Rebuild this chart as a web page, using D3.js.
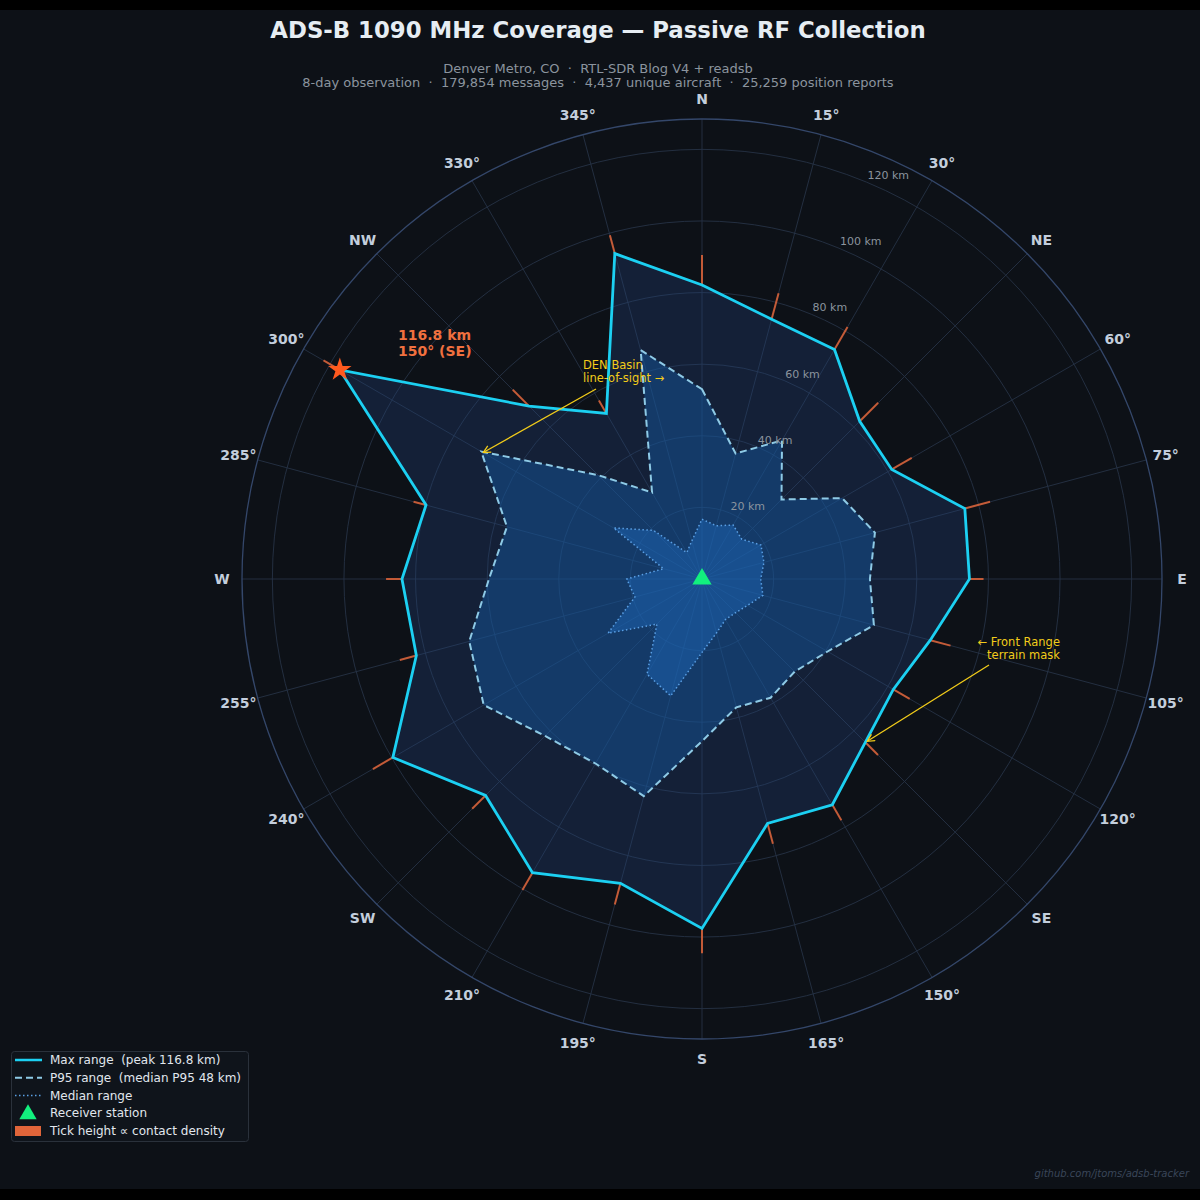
<!DOCTYPE html>
<html>
<head>
<meta charset="utf-8">
<script src="https://cdn.jsdelivr.net/npm/d3@7"></script>
<style>
  html, body { margin: 0; padding: 0; background: #0d1117; }
  svg { display: block; font-family: "DejaVu Sans", sans-serif; }
  text { white-space: pre; }
</style>
</head>
<body>
<svg id="chart" width="1200" height="1200"></svg>
<script>
// bearings of each 15 degree sector
var bearings = [0, 15, 30, 45, 60, 75, 90, 105, 120, 135, 150, 165,
                180, 195, 210, 225, 240, 255, 270, 285, 300, 315, 330, 345];
var bearingLabels = ["N", "15°", "30°", "NE", "60°", "75°", "E", "105°", "120°", "SE", "150°", "165°",
                     "S", "195°", "210°", "SW", "240°", "255°", "W", "285°", "300°", "NW", "330°", "345°"];

// range per sector, km
var maxRangeKm = [82.1, 75.1, 74.0, 62.3, 61.2, 76.0, 74.7, 66.0, 61.7, 64.5, 72.8, 70.7,
                  97.6, 88.0, 94.7, 85.5, 99.7, 82.6, 83.8, 79.8, 116.8, 68.3, 53.4, 94.1];
var p95RangeKm = [53.0, 36.3, 44.7, 31.4, 45.2, 50.0, 46.9, 49.7, 40.5, 36.6, 38.3, 37.1,
                  45.3, 62.8, 59.5, 62.0, 70.4, 67.3, 59.5, 56.4, 71.2, 41.0, 27.9, 66.2];
var medianRangeKm = [16.7, 15.4, 17.4, 15.7, 19.0, 17.9, 16.4, 17.6, 14.7, 13.3, 13.1, 15.6,
                     20.5, 33.8, 30.7, 17.8, 30.3, 19.4, 21.0, 11.1, 28.5, 19.2, 8.5, 11.0];
// relative contact density per sector (1 = busiest)
var contactDensity = [1.00, 0.90, 0.87, 0.87, 0.77, 0.87, 0.47, 0.70, 0.63, 0.60, 0.60, 0.70,
                      0.83, 0.73, 0.67, 0.63, 0.77, 0.57, 0.53, 0.43, 0.63, 0.77, 0.50, 0.63];

var ringTicks = [20, 40, 60, 80, 100, 120];

var legendItems = ["Max range  (peak 116.8 km)", "P95 range  (median P95 48 km)", "Median range",
                   "Receiver station", "Tick height \u221d contact density"];

var svg = d3.select("#chart"),
    cx = 702, cy = 579,
    outerR = 460,
    peak = d3.max(maxRangeKm),
    peakIdx = maxRangeKm.indexOf(peak);

// radial scale, limit at 110% of the peak
var r = d3.scaleLinear().domain([0, peak * 1.1]).range([0, outerR]);
var tickLen = d3.scaleLinear().domain([0, 1]).range([0, 30]);

function px(deg, rad) { return cx + rad * Math.sin(deg * Math.PI / 180); }
function py(deg, rad) { return cy - rad * Math.cos(deg * Math.PI / 180); }

// background + black bands
svg.append("rect").attr("width", 1200).attr("height", 1200).attr("fill", "#0d1117");
svg.append("rect").attr("width", 1200).attr("height", 10).attr("fill", "#000");
svg.append("rect").attr("y", 1189).attr("width", 1200).attr("height", 11).attr("fill", "#000");

var g = svg.append("g").attr("transform", "translate(" + cx + "," + cy + ")");

//grid rings
g.selectAll("circle.ring").data(ringTicks).enter().append("circle")
    .attr("r", function(d) { return r(d); })
    .attr("fill", "none").attr("stroke", "#263245").attr("stroke-width", 0.9);

//spokes
g.selectAll("line.spoke").data(bearings).enter().append("line")
    .attr("x1", 0).attr("y1", 0)
    .attr("x2", function(d) { return px(d, outerR) - cx; })
    .attr("y2", function(d) { return py(d, outerR) - cy; })
    .attr("stroke", "#263245").attr("stroke-width", 0.9);

g.append("circle").attr("r", outerR).attr("fill", "none")
    .attr("stroke", "#34476a").attr("stroke-width", 1.3);

// radial labels along 22.5 deg
svg.selectAll("text.rlab").data(ringTicks).enter().append("text")
    .attr("x", function(d) { return px(22.5, r(d)) + 1; })
    .attr("y", function(d) { return py(22.5, r(d)) - 6; })
    .attr("dominant-baseline", "middle")
    .attr("font-size", 11).attr("fill", "#8b949e")
    .text(function(d) { return d + " km"; });

// bearing labels
svg.selectAll("text.blab").data(bearings).enter().append("text")
    .attr("x", function(d) { return px(d, 480); })
    .attr("y", function(d) { return py(d, 480); })
    .attr("text-anchor", "middle").attr("dominant-baseline", "central")
    .attr("font-size", 14).attr("font-weight", "bold").attr("fill", "#c3cedc")
    .text(function(d, i) { return bearingLabels[i]; });

// polygons
var radial = d3.lineRadial()
    .angle(function(d, i) { return bearings[i] * Math.PI / 180; })
    .radius(function(d) { return r(d); })
    .curve(d3.curveLinearClosed);

g.append("path").attr("d", radial(maxRangeKm))
    .attr("fill", "rgba(35,70,130,0.3)").attr("stroke", "none");
g.append("path").attr("d", radial(p95RangeKm))
    .attr("fill", "rgba(20,92,165,0.45)").attr("stroke", "none");
g.append("path").attr("d", radial(medianRangeKm))
    .attr("fill", "rgba(32,110,195,0.42)").attr("stroke", "none");

// density ticks beyond max range
g.selectAll("line.dens").data(bearings).enter().append("line")
    .attr("x1", function(d, i) { return px(d, r(maxRangeKm[i])) - cx; })
    .attr("y1", function(d, i) { return py(d, r(maxRangeKm[i])) - cy; })
    .attr("x2", function(d, i) { return px(d, r(maxRangeKm[i]) + tickLen(contactDensity[i])) - cx; })
    .attr("y2", function(d, i) { return py(d, r(maxRangeKm[i]) + tickLen(contactDensity[i])) - cy; })
    .attr("stroke", "#e0653a").attr("stroke-opacity", 0.85).attr("stroke-width", 2);

g.append("path").attr("d", radial(medianRangeKm))
    .attr("fill", "none").attr("stroke", "#5a9fe4").attr("stroke-width", 1.5)
    .attr("stroke-dasharray", "1.5,2.5");
g.append("path").attr("d", radial(p95RangeKm))
    .attr("fill", "none").attr("stroke", "#8ecae6").attr("stroke-width", 2)
    .attr("stroke-dasharray", "7,4");
g.append("path").attr("d", radial(maxRangeKm))
    .attr("fill", "none").attr("stroke", "#1cd0f2").attr("stroke-width", 2.8)
    .attr("stroke-linejoin", "miter");

// receiver + peak marker
g.append("path").attr("d", d3.symbol(d3.symbolTriangle, 160)())
    .attr("fill", "#12f07e");
g.append("path").attr("d", d3.symbol(d3.symbolStar, 170)())
    .attr("transform", "translate(" + (px(bearings[peakIdx], r(peak)) - cx) + "," + (py(bearings[peakIdx], r(peak)) - cy) + ")")
    .attr("fill", "#ff5a1f");

// peak label
var peakTxt = svg.append("text").attr("font-size", 14).attr("font-weight", "bold").attr("fill", "#f0703f");
peakTxt.append("tspan").attr("x", 398).attr("y", 340).text(peak + " km");
peakTxt.append("tspan").attr("x", 398).attr("y", 356).text("150° (SE)");

// annotations
var defs = svg.append("defs");
defs.append("marker").attr("id", "arr").attr("viewBox", "0 0 10 10")
    .attr("refX", 9).attr("refY", 5).attr("markerWidth", 9).attr("markerHeight", 9)
    .attr("markerUnits", "userSpaceOnUse").attr("orient", "auto")
  .append("path").attr("d", "M1,1 L9,5 L1,9").attr("fill", "none")
    .attr("stroke", "#f2cc1a").attr("stroke-width", 1.4);

var ann = svg.append("g").attr("font-size", 11.5).attr("fill", "#f2cc1a");
var t1 = ann.append("text");
t1.append("tspan").attr("x", 583).attr("y", 369).text("DEN Basin");
t1.append("tspan").attr("x", 583).attr("y", 382).text("line-of-sight \u2192");
var t2 = ann.append("text").attr("text-anchor", "end");
t2.append("tspan").attr("x", 1060).attr("y", 646).text("\u2190 Front Range");
t2.append("tspan").attr("x", 1060).attr("y", 659).text("terrain mask");

svg.append("line").attr("x1", 596).attr("y1", 389)
    .attr("x2", px(300, r(p95RangeKm[20])) + 2).attr("y2", py(300, r(p95RangeKm[20])) + 1)
    .attr("stroke", "#f2cc1a").attr("stroke-width", 1.3).attr("marker-end", "url(#arr)");
svg.append("line").attr("x1", 989).attr("y1", 665)
    .attr("x2", px(135, r(maxRangeKm[9])) + 2).attr("y2", py(135, r(maxRangeKm[9])) - 1)
    .attr("stroke", "#f2cc1a").attr("stroke-width", 1.3).attr("marker-end", "url(#arr)");

// titles
svg.append("text").attr("x", 598).attr("y", 38).attr("text-anchor", "middle")
    .attr("font-size", 22.8).attr("font-weight", "bold").attr("fill", "#e6edf3")
    .text("ADS-B 1090 MHz Coverage \u2014 Passive RF Collection");
svg.append("text").attr("x", 598).attr("y", 73).attr("text-anchor", "middle")
    .attr("font-size", 13).attr("fill", "#8b949e")
    .text("Denver Metro, CO  \u00b7  RTL-SDR Blog V4 + readsb");
svg.append("text").attr("x", 598).attr("y", 87).attr("text-anchor", "middle")
    .attr("font-size", 13).attr("fill", "#8b949e")
    .text("8-day observation  \u00b7  179,854 messages  \u00b7  4,437 unique aircraft  \u00b7  25,259 position reports");

// legend
var lg = svg.append("g");
lg.append("rect").attr("x", 11.5).attr("y", 1051.5).attr("width", 237).attr("height", 90).attr("rx", 3)
    .attr("fill", "#0f141b").attr("stroke", "#2a313b");
var rowY = d3.scalePoint().domain(d3.range(legendItems.length)).range([1060, 1131]);
lg.selectAll("text").data(legendItems).enter().append("text")
    .attr("x", 50).attr("y", function(d, i) { return rowY(i); })
    .attr("dominant-baseline", "central").attr("font-size", 12).attr("fill", "#e1e7ee")
    .text(function(d) { return d; });
lg.append("line").attr("x1", 15).attr("x2", 42).attr("y1", rowY(0)).attr("y2", rowY(0))
    .attr("stroke", "#1cd0f2").attr("stroke-width", 2.5);
lg.append("line").attr("x1", 15).attr("x2", 42).attr("y1", rowY(1)).attr("y2", rowY(1))
    .attr("stroke", "#8ecae6").attr("stroke-width", 2).attr("stroke-dasharray", "7,4");
lg.append("line").attr("x1", 15).attr("x2", 42).attr("y1", rowY(2)).attr("y2", rowY(2))
    .attr("stroke", "#5a9fe4").attr("stroke-width", 1.5).attr("stroke-dasharray", "1.5,2.5");
lg.append("path").attr("d", d3.symbol(d3.symbolTriangle, 130)())
    .attr("transform", "translate(28," + (rowY(3) + 1) + ")").attr("fill", "#12f07e");
lg.append("rect").attr("x", 15).attr("y", rowY(4) - 5).attr("width", 26).attr("height", 10)
    .attr("fill", "#e0653a");

svg.append("text").attr("x", 1189).attr("y", 1177).attr("text-anchor", "end")
    .attr("font-size", 10).attr("font-style", "italic").attr("fill", "#3a4659")
    .text("github.com/jtoms/adsb-tracker");
</script>
</body>
</html>
